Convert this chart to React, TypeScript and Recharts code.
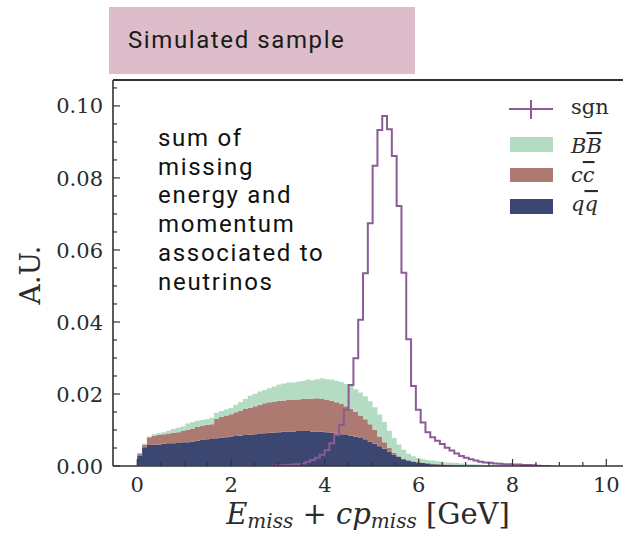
import React from "react";
import { ComposedChart, Area, Line, XAxis, YAxis, ReferenceLine } from "recharts";

// histogram binning (bins start at 0)
const BIN_WIDTH = 0.1024;

// per-bin heights, stacked qq -> cc -> BB
const qqValues = [
  0.0028, 0.0052, 0.0058, 0.006, 0.006, 0.0062, 0.0063, 0.0063, 0.0064, 0.0066,
  0.0066, 0.0068, 0.007, 0.0072, 0.0074, 0.0075, 0.0077, 0.0079, 0.008, 0.0082,
  0.0083, 0.0084, 0.0086, 0.0087, 0.0088, 0.0089, 0.0091, 0.0092, 0.0093, 0.0094,
  0.0095, 0.0096, 0.0096, 0.0097, 0.0097, 0.0097, 0.0096, 0.0096, 0.0095, 0.0094,
  0.0092, 0.009, 0.0088, 0.0086, 0.0084, 0.0081, 0.0078, 0.0074, 0.0068, 0.0062,
  0.0055, 0.0048, 0.004, 0.0032, 0.0025, 0.0019, 0.0015, 0.0012, 0.001, 0.0008,
  0.0006, 0.0005, 0.0004, 0.0003, 0.0003, 0.0002, 0.0002, 0.0001, 0.0001, 0.0001,
  0.0001, 0, 0, 0, 0, 0, 0, 0, 0, 0,
  0, 0, 0, 0, 0, 0,
];
const ccValues = [
  0.0007, 0.0008, 0.0022, 0.0024, 0.0026, 0.0026, 0.0027, 0.0029, 0.003, 0.0031,
  0.0035, 0.0036, 0.0038, 0.004, 0.004, 0.0041, 0.0054, 0.0058, 0.006, 0.0062,
  0.0066, 0.0069, 0.0072, 0.0075, 0.0078, 0.0081, 0.0083, 0.0085, 0.0086, 0.0087,
  0.0087, 0.0088, 0.0089, 0.0088, 0.0089, 0.009, 0.009, 0.0092, 0.0091, 0.009,
  0.0089, 0.0087, 0.0084, 0.008, 0.0075, 0.0069, 0.0062, 0.0056, 0.0048, 0.0038,
  0.0027, 0.0018, 0.001, 0.0005, 0.0002, 0.0001, 0.0001, 0.0001, 0.0001, 0.0002,
  0.0002, 0.0002, 0.0002, 0.0002, 0.0001, 0.0002, 0.0001, 0.0002, 0.0001, 0.0001,
  0.0001, 0.0001, 0.0001, 0.0001, 0.0001, 0, 0, 0, 0, 0,
  0, 0, 0, 0, 0, 0,
];
const bbValues = [
  0, 0.0002, 0.0002, 0.0004, 0.0005, 0.0006, 0.0008, 0.0011, 0.0012, 0.0013,
  0.0017, 0.0018, 0.0018, 0.0016, 0.0016, 0.0018, 0.0017, 0.0016, 0.0017, 0.0017,
  0.0021, 0.0025, 0.0028, 0.0033, 0.0035, 0.0037, 0.0037, 0.0039, 0.0042, 0.0045,
  0.0047, 0.0048, 0.0047, 0.0049, 0.005, 0.0053, 0.0052, 0.0053, 0.0058, 0.0057,
  0.0059, 0.006, 0.0061, 0.0062, 0.0063, 0.0063, 0.0064, 0.0064, 0.0064, 0.0063,
  0.0061, 0.0056, 0.0048, 0.0041, 0.0033, 0.0025, 0.0018, 0.0014, 0.0011, 0.0009,
  0.0009, 0.0008, 0.0007, 0.0007, 0.0006, 0.0005, 0.0005, 0.0004, 0.0004, 0.0003,
  0.0002, 0.0003, 0.0002, 0.0002, 0.0001, 0.0002, 0.0001, 0.0001, 0.0001, 0,
  0, 0, 0, 0, 0, 0,
];
const sgnValues = [
  0, 0, 0, 0, 0, 0, 0, 0, 0, 0,
  0, 0, 0, 0, 0, 0, 0, 0, 0, 0,
  0, 0, 0, 0, 0, 0, 0, 0, 0.0001, 0.0002,
  0.0002, 0.0003, 0.0004, 0.0005, 0.0007, 0.0012, 0.0017, 0.0023, 0.0031, 0.0044,
  0.0063, 0.0086, 0.0114, 0.0156, 0.0225, 0.0299, 0.0406, 0.0535, 0.0674, 0.0834,
  0.0933, 0.0972, 0.0935, 0.0861, 0.0722, 0.0537, 0.0352, 0.0222, 0.0156, 0.0121,
  0.0094, 0.008, 0.007, 0.0061, 0.0051, 0.0043, 0.0035, 0.0028, 0.0023, 0.0019,
  0.0015, 0.0012, 0.001, 0.0009, 0.0007, 0.0006, 0.0005, 0.0005, 0.0004, 0.0004,
  0.0003, 0.0003, 0.0002, 0.0001, 0, 0,
];

const xTicks = [0, 0.5, 1, 1.5, 2, 2.5, 3, 3.5, 4, 4.5, 5, 5.5, 6, 6.5, 7, 7.5, 8, 8.5, 9, 9.5, 10];
const yTicks = [
  0, 0.005, 0.01, 0.015, 0.02, 0.025, 0.03, 0.035, 0.04, 0.045, 0.05,
  0.055, 0.06, 0.065, 0.07, 0.075, 0.08, 0.085, 0.09, 0.095, 0.1, 0.105,
];
const noteLines = ["sum of", "missing", "energy and", "momentum", "associated to", "neutrinos"];

const X_MIN = -0.518;
const X_MAX = 10.505;
const Y_MAX = 0.1072;

const COLORS = {
  qq: "#3b4771",
  cc: "#ad7a71",
  bb: "#b3dcc3",
  sgn: "#8c5a98",
  frame: "#333333",
  box: "#dcbdc9",
};

const chartData = qqValues.map((qq, i) => ({
  x: i * BIN_WIDTH,
  qq,
  cc: ccValues[i],
  bb: bbValues[i],
  sgn: sgnValues[i],
}));
chartData.push({ x: qqValues.length * BIN_WIDTH, qq: 0, cc: 0, bb: 0, sgn: 0 });

const TICK_MARGIN = 10;
const serif = '"DejaVu Serif", serif';
const sans = 'Roboto, "Open Sans", sans-serif';

function isMajor(v: number, step: number) {
  return Math.abs(v / step - Math.round(v / step)) < 1e-6;
}

const YTick = (props: any) => {
  const { x, y, payload } = props;
  const v = payload.value;
  const major = isMajor(v, 0.02);
  const ax = x + TICK_MARGIN;
  return (
    <g>
      <line x1={ax} x2={ax + (major ? 7 : 4)} y1={y} y2={y} stroke={COLORS.frame} strokeWidth={1.2} />
      {major && (
        <text x={x} y={y} dy="0.36em" textAnchor="end" fontFamily={serif} fontSize={21} fill="#2b2b2b">
          {v.toFixed(2)}
        </text>
      )}
    </g>
  );
};

const XTick = (props: any) => {
  const { x, y, payload } = props;
  const v = payload.value;
  const major = isMajor(v, 2);
  const ay = y - TICK_MARGIN;
  return (
    <g>
      <line x1={x} x2={x} y1={ay} y2={ay - (major ? 7 : 4)} stroke={COLORS.frame} strokeWidth={1.2} />
      {major && (
        <text x={x} y={ay + 26} textAnchor="middle" fontFamily={serif} fontSize={21} fill="#2b2b2b">
          {v}
        </text>
      )}
    </g>
  );
};

export default function App() {
  return (
    <div
      style={{
        position: "fixed",
        left: 0,
        top: 0,
        width: 623,
        height: 535,
        overflow: "hidden",
        background: "#fff",
      }}
    >
      <ComposedChart
        width={650}
        height={535}
        data={chartData}
        margin={{ top: 80, right: 20, left: 63, bottom: 39 }}
      >
        <XAxis
          dataKey="x"
          type="number"
          domain={[X_MIN, X_MAX]}
          ticks={xTicks}
          interval={0}
          allowDataOverflow
          height={30}
          tickSize={0}
          tickMargin={TICK_MARGIN}
          tick={XTick}
          axisLine={{ stroke: COLORS.frame, strokeWidth: 1.6 }}
        />
        <YAxis
          type="number"
          domain={[0, Y_MAX]}
          ticks={yTicks}
          interval={0}
          allowDataOverflow
          width={50}
          tickSize={0}
          tickMargin={TICK_MARGIN}
          tick={YTick}
          axisLine={{ stroke: COLORS.frame, strokeWidth: 1.6 }}
        />
        <Area type="stepAfter" dataKey="qq" stackId="bkg" fill={COLORS.qq} fillOpacity={1} stroke="none" isAnimationActive={false} />
        <Area type="stepAfter" dataKey="cc" stackId="bkg" fill={COLORS.cc} fillOpacity={1} stroke="none" isAnimationActive={false} />
        <Area type="stepAfter" dataKey="bb" stackId="bkg" fill={COLORS.bb} fillOpacity={1} stroke="none" isAnimationActive={false} />
        <Line type="stepAfter" dataKey="sgn" stroke={COLORS.sgn} strokeWidth={2} dot={false} isAnimationActive={false} />
        <ReferenceLine y={Y_MAX} stroke={COLORS.frame} strokeWidth={2} />
      </ComposedChart>

      <svg
        width={623}
        height={535}
        style={{ position: "absolute", left: 0, top: 0, pointerEvents: "none" }}
      >
        {/* title box */}
        <rect x={109} y={7} width={306} height={67} fill={COLORS.box} />
        <text x={128} y={48} fontFamily={sans} fontSize={24} letterSpacing={1.6} fill="#1a1a1a">
          Simulated sample
        </text>

        {/* annotation */}
        {noteLines.map((line, i) => (
          <text
            key={line}
            x={158}
            y={146 + i * 28.7}
            fontFamily={sans}
            fontSize={24}
            letterSpacing={1.7}
            fill="#111"
          >
            {line}
          </text>
        ))}

        {/* legend */}
        <line x1={509} x2={553} y1={109} y2={109} stroke={COLORS.sgn} strokeWidth={2} />
        <line x1={531} x2={531} y1={100} y2={119} stroke={COLORS.sgn} strokeWidth={2} />
        <text x={571} y={114} fontFamily={serif} fontSize={21} fill="#2b2b2b">sgn</text>

        <rect x={510} y={137} width={43} height={15} fill={COLORS.bb} />
        <text x={571} y={153} fontFamily={serif} fontStyle="italic" fontSize={21} fill="#2b2b2b">
          B<tspan style={{ textDecoration: "overline" }}>B</tspan>
        </text>

        <rect x={510} y={168} width={43} height={14} fill={COLORS.cc} />
        <text x={571} y={182} fontFamily={serif} fontStyle="italic" fontSize={21} fill="#2b2b2b">
          c<tspan style={{ textDecoration: "overline" }}>c</tspan>
        </text>

        <rect x={510} y={199} width={43} height={15} fill={COLORS.qq} />
        <text x={571} y={211} fontFamily={serif} fontStyle="italic" fontSize={21} fill="#2b2b2b">
          q<tspan style={{ textDecoration: "overline" }}>q</tspan>
        </text>

        {/* axis titles */}
        <text
          transform="translate(40 275) rotate(-90)"
          textAnchor="middle"
          fontFamily={serif}
          fontSize={28}
          fill="#2b2b2b"
        >
          A.U.
        </text>
        <text x={368} y={524} textAnchor="middle" fontFamily={serif} fontSize={29} fill="#2b2b2b">
          <tspan fontStyle="italic">E</tspan>
          <tspan fontStyle="italic" fontSize={20} dy={4}>miss</tspan>
          <tspan dy={-4}>{"\u00a0+\u00a0"}</tspan>
          <tspan fontStyle="italic">cp</tspan>
          <tspan fontStyle="italic" fontSize={20} dy={4}>miss</tspan>
          <tspan dy={-4}>{"\u00a0[GeV]"}</tspan>
        </text>
      </svg>
    </div>
  );
}
